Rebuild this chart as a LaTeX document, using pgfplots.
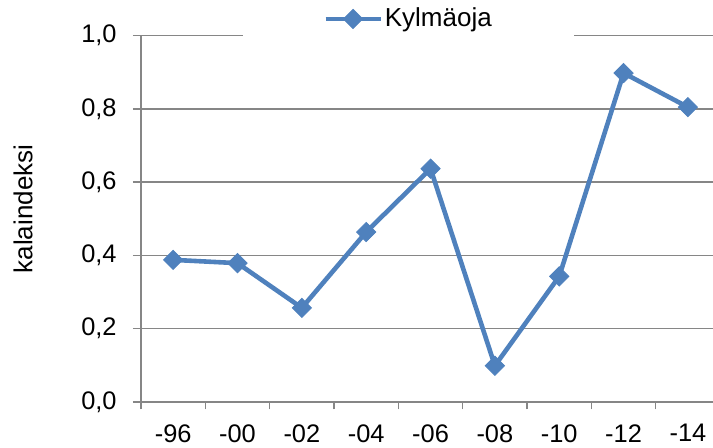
\documentclass[border=0pt]{standalone}
\usepackage{pgfplots}
\pgfplotsset{compat=1.18}
\usepackage{fontspec}
\setmainfont{Liberation Sans}
\definecolor{serblue}{RGB}{79,129,189}
\definecolor{gridgray}{RGB}{134,134,134}
\begin{document}
\begin{tikzpicture}
\useasboundingbox (-70.5pt,-23pt) rectangle (286pt,201pt);
\begin{axis}[
  at={(0pt,0pt)}, anchor=south west,
  scale only axis,
  width=286pt, height=183.15pt,
  xmin=-0.5, xmax=8.39,
  ymin=0, ymax=1,
  font=\fontsize{12.7}{15}\selectfont,
  axis line style={gridgray, line width=0.75pt},
  axis x line*=bottom,
  axis y line*=left,
  xtick={0,...,8},
  xticklabels={-96,-00,-02,-04,-06,-08,-10,-12,-14},
  major x tick style={draw=none},
  minor xtick={-0.5,0.5,...,7.5},
  minor x tick style={gridgray, line width=0.75pt},
  minor tick length=3.75pt,
  ytick={0,0.2,...,1.0},
  ymajorgrids,
  grid style={gridgray, line width=0.75pt},
  major y tick style={gridgray, line width=0.75pt},
  major tick length=4pt,
  tick align=outside,
  /pgf/number format/assume math mode=true,
  /pgf/number format/.cd, fixed, fixed zerofill, precision=1, use comma,
  /pgfplots/.cd,
  yticklabel style={anchor=east, inner sep=0pt, xshift=-8pt},
  xticklabel style={anchor=north, inner sep=0pt, yshift=-7pt},
  ylabel={kalaindeksi},
  ylabel style={at={(axis description cs:-0.2063,0.527)}, anchor=center, font=\fontsize{13}{15.6}\selectfont},
  legend style={draw=none, fill=white, at={(0.4677,1.0456)}, anchor=center,
    inner xsep=40pt, inner ysep=2.5pt, font=\fontsize{13}{15.6}\selectfont,
    nodes={inner xsep=1pt}},
  legend image code/.code={%
    \draw[mark repeat=2,mark phase=2] plot coordinates {(0pt,0pt) (13.75pt,0pt) (27.5pt,0pt)};},
  clip=false,
]
\addplot[serblue, line width=2.3pt, mark=square*, mark size=3.4pt,
  mark options={solid, rotate=45, fill=serblue, draw=serblue, line width=0.4pt}]
  coordinates {(0,0.388) (1,0.379) (2,0.257) (3,0.464) (4,0.637) (5,0.099) (6,0.343) (7,0.898) (8,0.805)};
\addlegendentry{Kylmäoja}
\end{axis}
\end{tikzpicture}
\end{document}
